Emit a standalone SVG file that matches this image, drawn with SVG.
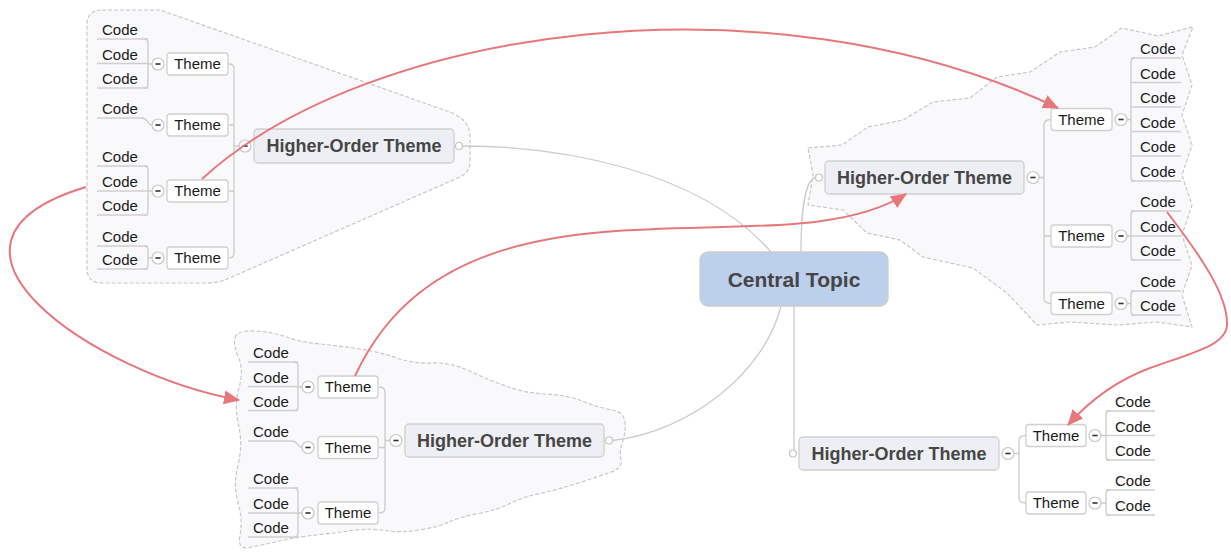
<svg xmlns="http://www.w3.org/2000/svg" width="1231" height="552" viewBox="0 0 1231 552">
<defs>
<style>
text{font-family:"Liberation Sans",Arial,sans-serif;fill:#1a1a1a}
.code text{font-size:15px}
.ul{stroke:#cfcfcf;stroke-width:1.3}
.theme rect{fill:#fff;stroke:#d0d0d0;stroke-width:1.3}
.theme text{font-size:15px;text-anchor:middle}
.hot rect{fill:#eeeff4;stroke:#d0d0d0;stroke-width:1.3}
.hot text{font-size:18px;font-weight:bold;text-anchor:middle;fill:#464646}
.central rect{fill:#bccfeb;stroke:#cdcdcd;stroke-width:1.3}
.central text{font-size:21px;font-weight:bold;text-anchor:middle;fill:#454545}
.conn path{fill:none;stroke:#cbcbcb;stroke-width:1.3}
.dot{fill:#fff;stroke:#c4c4c4;stroke-width:1.2}
.boundary{fill:#f9f9fc;stroke:#c8c8c8;stroke-width:1.2;stroke-dasharray:4 2}
.rel path{fill:none;stroke:#e8777c;stroke-width:2}
</style>
<marker id="arr" viewBox="0 0 16 14" refX="15" refY="7" markerWidth="16" markerHeight="14" markerUnits="userSpaceOnUse" orient="auto">
<path d="M0,0 L16,7 L0,14 z" fill="#e8777c"/>
</marker>
<g id="minus"><circle r="6" cx="0" cy="0" fill="#fff" stroke="#c8c8c8" stroke-width="1.2"/><path d="M-2.6,0 H2.6" stroke="#333" stroke-width="1.6"/></g>
</defs>

<!-- boundaries -->
<g id="boundaries">
<path class="boundary" d="M102,10 L160,10 L450,112 Q470,120 470,136 L470,162 Q470,172 460,177 L225,280 Q218,283 205,283 L102,283 Q87,283 87,268 L87,25 Q87,10 102,10 Z"/>
<path class="boundary" d="M808,148 L842,145 L868,127 L903,120 L933,102 L970,98 L997,77 L1030,72 L1060,52 L1095,47 L1122,28 L1158,36 L1193,27 L1182,55 L1192,85 L1182,115 L1192,145 L1182,175 L1192,205 L1182,235 L1192,265 L1182,295 L1192,327 L1157,322 L1117,325 L1070,322 L1037,325 L1007,293 L973,268 L923,257 L900,240 L867,233 L843,210 L808,205 L813,175 Z"/>
<path class="boundary" d="M235,337.5 Q237,330 255,331 Q273,332 286.5,337 Q300,342 320,344 Q340,346 360,349 Q380,352 397,358 Q414,364 432,363 Q450,362 469.5,371 Q489,380 507,386.5 Q525,393 546,394 Q567,395 583.5,401.5 Q600,408 612,410 Q624,412 625,422 Q626,432 622.5,442 Q619,452 621,460 Q623,468 610,472.5 Q597,477 577,483.5 Q557,490 540,493.5 Q523,497 510,503.5 Q497,510 478.5,513.5 Q460,517 449,522 Q438,527 419,530 Q400,533 385,530.5 Q370,528 352.5,530.5 Q335,533 316,535 Q297,537 279.5,541 Q262,545 249.5,547.5 Q237,550 240,535 Q243,520 238,502.5 Q233,485 238,465 Q243,445 238.5,425 Q234,405 239,387.5 Q244,370 238.5,357.5 Q233,345 235,337.5 Z"/>
</g>

<!-- connectors -->
<g id="connectors" class="conn">
<path d="M463,146 C560,146 700,170 771,252"/>
<path d="M801,252 C801,212 805,180 815.5,177.5"/>
<path d="M612.5,440.5 C690,432 765,372 781,306"/>
<path d="M794,306 L794,450"/>
<!-- top-left -->
<path d="M229,64 Q234,64 234,69 L234,253 Q234,258 229,258 M229,125 L234,125 M229,191 L234,191 M234,146 L239,146"/>
<path d="M144,39 Q148,39 148,43 L148,84 Q148,88 144,88 M148,64 L152,64"/>
<path d="M142,118 C148,118 147,125 152,125"/>
<path d="M144,166 Q148,166 148,170 L148,211 Q148,215 144,215 M148,191 L152,191"/>
<path d="M144,246 Q148,246 148,250 L148,265 Q148,269 144,269 M148,258 L152,258"/>
<!-- top-right -->
<path d="M1039,177.5 L1044,177.5 M1051,119.5 Q1044,119.5 1044,125 L1044,298 Q1044,303.5 1051,303.5 M1044,236 L1051,236"/>
<path d="M1127,119.5 L1131,119.5 M1135,58 Q1131,58 1131,62 L1131,177 Q1131,181 1135,181"/>
<path d="M1127,236 L1131,236 M1135,211 Q1131,211 1131,215 L1131,256 Q1131,260 1135,260"/>
<path d="M1127,303.5 L1131,303.5 M1135,291 Q1131,291 1131,295 L1131,311 Q1131,315 1135,315"/>
<!-- bottom-left -->
<path d="M379,387 Q385,387 385,392 L385,508 Q385,513 379,513 M379,447.5 L385,447.5 M385,440.5 L390,440.5"/>
<path d="M294,362 Q298,362 298,366 L298,406.5 Q298,410.5 294,410.5 M298,387 L302,387"/>
<path d="M292,441 C298,441 297,447.5 302,447.5"/>
<path d="M294,488 Q298,488 298,492 L298,533 Q298,537 294,537 M298,513 L302,513"/>
<!-- bottom-right -->
<path d="M1014,453.5 L1019,453.5 M1026,435.5 Q1019,435.5 1019,441 L1019,498 Q1019,503 1026,503"/>
<path d="M1101,435.5 L1106,435.5 M1110,411 Q1106,411 1106,415 L1106,456 Q1106,460 1110,460"/>
<path d="M1101,503 L1106,503 M1110,490 Q1106,490 1106,494 L1106,511 Q1106,515 1110,515"/>
</g>

<!-- central -->
<g id="central" class="central">
<rect x="700" y="252" width="188" height="54" rx="8"/>
<text x="794" y="287">Central Topic</text>
</g>

<!-- higher-order themes -->
<g id="hot-tl" class="hot">
<rect x="254" y="129" width="200" height="34" rx="4"/>
<text x="354" y="152">Higher-Order Theme</text>
<circle class="dot" cx="459" cy="146" r="3.5"/>
<use href="#minus" x="245" y="146"/>
</g>
<g id="hot-tr" class="hot">
<rect x="825" y="161" width="199" height="33" rx="4"/>
<text x="924.5" y="183.5">Higher-Order Theme</text>
<circle class="dot" cx="819" cy="177.5" r="3.5"/>
<use href="#minus" x="1033" y="177.5"/>
</g>
<g id="hot-bl" class="hot">
<rect x="405" y="424" width="199" height="33" rx="4"/>
<text x="504.5" y="446.5">Higher-Order Theme</text>
<circle class="dot" cx="609" cy="440.5" r="3.5"/>
<use href="#minus" x="396" y="440.5"/>
</g>
<g id="hot-br" class="hot">
<rect x="799" y="437" width="200" height="33" rx="4"/>
<text x="899" y="459.5">Higher-Order Theme</text>
<circle class="dot" cx="793" cy="453.5" r="3.5"/>
<use href="#minus" x="1008" y="453.5"/>
</g>

<!-- themes -->
<g id="theme-tl1" class="theme"><rect x="167" y="53" width="61" height="22" rx="3"/><text x="197.5" y="69">Theme</text><use href="#minus" x="158" y="64"/></g>
<g id="theme-tl2" class="theme"><rect x="167" y="114" width="61" height="22" rx="3"/><text x="197.5" y="130">Theme</text><use href="#minus" x="158" y="125"/></g>
<g id="theme-tl3" class="theme"><rect x="167" y="180" width="61" height="22" rx="3"/><text x="197.5" y="196">Theme</text><use href="#minus" x="158" y="191"/></g>
<g id="theme-tl4" class="theme"><rect x="167" y="247" width="61" height="22" rx="3"/><text x="197.5" y="263">Theme</text><use href="#minus" x="158" y="258"/></g>

<g id="theme-tr1" class="theme"><rect x="1051" y="108.5" width="61" height="22" rx="3"/><text x="1081.5" y="124.5">Theme</text><use href="#minus" x="1121" y="119.5"/></g>
<g id="theme-tr2" class="theme"><rect x="1051" y="225" width="61" height="22" rx="3"/><text x="1081.5" y="241">Theme</text><use href="#minus" x="1121" y="236"/></g>
<g id="theme-tr3" class="theme"><rect x="1051" y="292.5" width="61" height="22" rx="3"/><text x="1081.5" y="308.5">Theme</text><use href="#minus" x="1121" y="303.5"/></g>

<g id="theme-bl1" class="theme"><rect x="318" y="376" width="60" height="22" rx="3"/><text x="348" y="392">Theme</text><use href="#minus" x="308" y="387"/></g>
<g id="theme-bl2" class="theme"><rect x="318" y="436.5" width="60" height="22" rx="3"/><text x="348" y="452.5">Theme</text><use href="#minus" x="308" y="447.5"/></g>
<g id="theme-bl3" class="theme"><rect x="318" y="502" width="60" height="22" rx="3"/><text x="348" y="518">Theme</text><use href="#minus" x="308" y="513"/></g>

<g id="theme-br1" class="theme"><rect x="1026" y="424.5" width="60" height="22" rx="3"/><text x="1056" y="440.5">Theme</text><use href="#minus" x="1095" y="435.5"/></g>
<g id="theme-br2" class="theme"><rect x="1026" y="492" width="60" height="22" rx="3"/><text x="1056" y="508">Theme</text><use href="#minus" x="1095" y="503"/></g>

<!-- codes top-left -->
<g id="code-tl1a" class="code"><text x="102" y="35">Code</text><path class="ul" d="M97,39 H148"/></g>
<g id="code-tl1b" class="code"><text x="102" y="59.5">Code</text><path class="ul" d="M97,63.5 H148"/></g>
<g id="code-tl1c" class="code"><text x="102" y="84">Code</text><path class="ul" d="M97,88 H148"/></g>
<g id="code-tl2a" class="code"><text x="102" y="114">Code</text><path class="ul" d="M97,118 H142"/></g>
<g id="code-tl3a" class="code"><text x="102" y="162">Code</text><path class="ul" d="M97,166 H148"/></g>
<g id="code-tl3b" class="code"><text x="102" y="187">Code</text><path class="ul" d="M97,191 H148"/></g>
<g id="code-tl3c" class="code"><text x="102" y="211">Code</text><path class="ul" d="M97,215 H148"/></g>
<g id="code-tl4a" class="code"><text x="102" y="242">Code</text><path class="ul" d="M97,246 H148"/></g>
<g id="code-tl4b" class="code"><text x="102" y="265">Code</text><path class="ul" d="M97,269 H148"/></g>

<!-- codes top-right -->
<g id="code-tr1a" class="code"><text x="1140" y="54">Code</text><path class="ul" d="M1131,58 H1181"/></g>
<g id="code-tr1b" class="code"><text x="1140" y="78.5">Code</text><path class="ul" d="M1131,82.5 H1181"/></g>
<g id="code-tr1c" class="code"><text x="1140" y="103">Code</text><path class="ul" d="M1131,107 H1181"/></g>
<g id="code-tr1d" class="code"><text x="1140" y="127.5">Code</text><path class="ul" d="M1131,131.5 H1181"/></g>
<g id="code-tr1e" class="code"><text x="1140" y="152">Code</text><path class="ul" d="M1131,156 H1181"/></g>
<g id="code-tr1f" class="code"><text x="1140" y="177">Code</text><path class="ul" d="M1131,181 H1181"/></g>
<g id="code-tr2a" class="code"><text x="1140" y="207">Code</text><path class="ul" d="M1131,211 H1181"/></g>
<g id="code-tr2b" class="code"><text x="1140" y="232">Code</text><path class="ul" d="M1131,236 H1181"/></g>
<g id="code-tr2c" class="code"><text x="1140" y="256">Code</text><path class="ul" d="M1131,260 H1181"/></g>
<g id="code-tr3a" class="code"><text x="1140" y="287">Code</text><path class="ul" d="M1131,291 H1181"/></g>
<g id="code-tr3b" class="code"><text x="1140" y="311">Code</text><path class="ul" d="M1131,315 H1181"/></g>

<!-- codes bottom-left -->
<g id="code-bl1a" class="code"><text x="253" y="358">Code</text><path class="ul" d="M248,362 H298"/></g>
<g id="code-bl1b" class="code"><text x="253" y="382.5">Code</text><path class="ul" d="M248,386.5 H298"/></g>
<g id="code-bl1c" class="code"><text x="253" y="406.5">Code</text><path class="ul" d="M248,410.5 H298"/></g>
<g id="code-bl2a" class="code"><text x="253" y="437">Code</text><path class="ul" d="M248,441 H292"/></g>
<g id="code-bl3a" class="code"><text x="253" y="484">Code</text><path class="ul" d="M248,488 H298"/></g>
<g id="code-bl3b" class="code"><text x="253" y="509">Code</text><path class="ul" d="M248,513 H298"/></g>
<g id="code-bl3c" class="code"><text x="253" y="533">Code</text><path class="ul" d="M248,537 H298"/></g>

<!-- codes bottom-right -->
<g id="code-br1a" class="code"><text x="1115" y="407">Code</text><path class="ul" d="M1106,411 H1155"/></g>
<g id="code-br1b" class="code"><text x="1115" y="431.5">Code</text><path class="ul" d="M1106,435.5 H1155"/></g>
<g id="code-br1c" class="code"><text x="1115" y="456">Code</text><path class="ul" d="M1106,460 H1155"/></g>
<g id="code-br2a" class="code"><text x="1115" y="486">Code</text><path class="ul" d="M1106,490 H1155"/></g>
<g id="code-br2b" class="code"><text x="1115" y="511">Code</text><path class="ul" d="M1106,515 H1155"/></g>

<!-- relationships -->
<g id="relationships" class="rel">
<path d="M202,179 C367,27 768,-30 1058,108" marker-end="url(#arr)"/>
<path d="M86,187 C-100,243 95,374 239,400" marker-end="url(#arr)"/>
<path d="M355,376 C460,150 780,275 906,194" marker-end="url(#arr)"/>
<path d="M1167,212 C1200,255 1228,295 1227,325 C1226,345 1195,352 1150,368 C1118,380 1090,400 1068,425" marker-end="url(#arr)"/>
</g>
</svg>
